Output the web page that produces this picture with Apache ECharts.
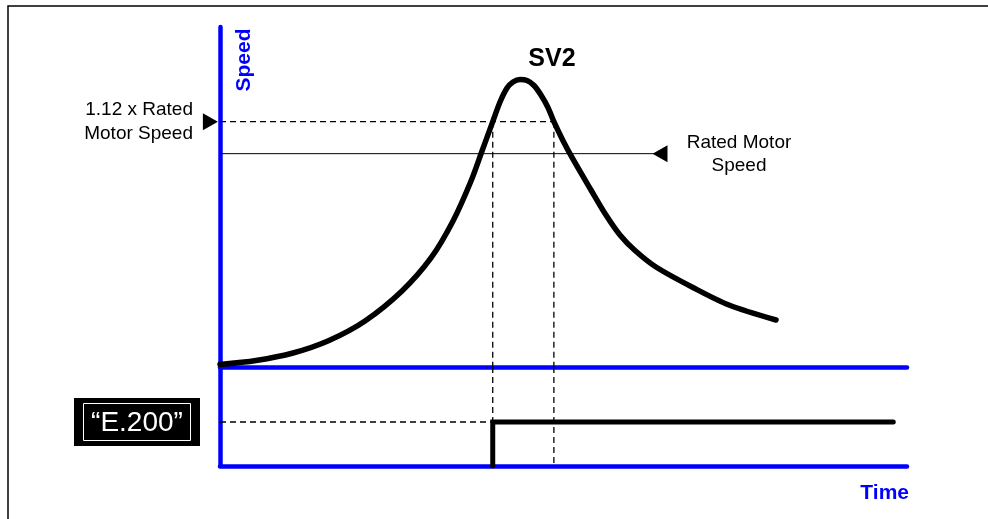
<!DOCTYPE html>
<html>
<head>
<meta charset="utf-8">
<style>
  html, body { margin: 0; padding: 0; background: #ffffff; }
  #chart { width: 988px; height: 519px; }
</style>
<script src="https://cdn.jsdelivr.net/npm/echarts@6/dist/echarts.min.js"></script>
</head>
<body>
<div id="chart"></div>
<script>
// Motor speed over time (rated speed = 100 %)
const timeVals  = [0, 5.24, 10.63, 15.87, 21.11, 26.49, 30.71, 33.92, 36.54, 38.14, 39.7, 40.76, 41.78, 42.65, 43.67,
                   44.69, 45.71, 46.72, 47.74, 48.6, 49.93, 51.38, 54.0, 56.04, 58.22, 60.41, 63.46, 68.85, 74.09, 80.93];
const speedVals = [20.94, 22.44, 25.25, 29.94, 37.25, 48.5, 60.88, 74.75, 89.75, 101, 112, 119.38, 124.63, 126.88, 127.81,
                   127.44, 125.56, 122, 117.31, 112, 104.88, 97.94, 86.38, 77.56, 69.5, 63.69, 57.5, 49.81, 43.25, 37.63];

// Reference levels
const ratedSpeed = 100;
const overSpeed = 112;          // 1.12 x rated
const ratedArrowTime = 64.05;   // where the "Rated Motor Speed" pointer sits
const overArrowTime = -1.4;     // pointer just left of the speed axis

// Times where the speed crosses the over-speed level
const crossUp = 39.7;
const crossDown = 48.6;

// Fault signal "E.200": off, then latched on at crossUp
const faultOnTime = crossUp;
const faultEndTime = 98;
const faultLevel = 1;

const FONT = '"Liberation Sans", Arial, sans-serif';
const BLUE = '#0000ff';

const chart = echarts.init(document.getElementById('chart'), null, { renderer: 'canvas' });

const speedData = timeVals.map((t, i) => [t, speedVals[i]]);

const blueAxisLine = { show: true, lineStyle: { color: BLUE, width: 4.5, cap: 'round' } };
const dashed = { color: '#000', width: 1.3, type: [6, 4] };

const option = {
  animation: false,
  backgroundColor: '#ffffff',
  grid: [
    { left: 220, top: 27, width: 687, height: 340 },
    { left: 220, top: 367, width: 687, height: 99 }
  ],
  xAxis: [
    { type: 'value', gridIndex: 0, min: 0, max: 100, axisLine: Object.assign({ onZero: false }, blueAxisLine),
      axisTick: { show: false }, axisLabel: { show: false }, splitLine: { show: false } },
    { type: 'value', gridIndex: 1, min: 0, max: 100, axisLine: Object.assign({ onZero: false }, blueAxisLine),
      axisTick: { show: false }, axisLabel: { show: false }, splitLine: { show: false } }
  ],
  yAxis: [
    { type: 'value', gridIndex: 0, min: 20, max: 147.5, axisLine: Object.assign({ onZero: false }, blueAxisLine),
      axisTick: { show: false }, axisLabel: { show: false }, splitLine: { show: false } },
    { type: 'value', gridIndex: 1, min: 0, max: 2.25, axisLine: Object.assign({ onZero: false }, blueAxisLine),
      axisTick: { show: false }, axisLabel: { show: false }, splitLine: { show: false } }
  ],
  series: [
    // over-speed level (dashed) with pointer
    { type: 'line', xAxisIndex: 0, yAxisIndex: 0, silent: true, symbol: 'none', z: 3,
      data: [[0, overSpeed], [crossDown, overSpeed]], lineStyle: dashed },
    { type: 'scatter', xAxisIndex: 0, yAxisIndex: 0, silent: true, clip: false, z: 5,
      symbol: 'triangle', symbolRotate: -90, symbolSize: [17, 15],
      itemStyle: { color: '#000', opacity: 1 },
      data: [[overArrowTime, overSpeed]] },
    // rated speed level with pointer
    { type: 'line', xAxisIndex: 0, yAxisIndex: 0, silent: true, z: 3,
      data: [
        { value: [0, ratedSpeed], symbol: 'none' },
        { value: [ratedArrowTime, ratedSpeed], symbol: 'triangle', symbolRotate: 90, symbolSize: [17, 15] }
      ],
      showSymbol: true, showAllSymbol: true,
      itemStyle: { color: '#000', opacity: 1 },
      lineStyle: { color: '#000', width: 1 } },
    // crossing markers in the speed panel
    { type: 'line', xAxisIndex: 0, yAxisIndex: 0, silent: true, symbol: 'none', z: 3,
      data: [[crossUp, overSpeed], [crossUp, 20]], lineStyle: dashed },
    { type: 'line', xAxisIndex: 0, yAxisIndex: 0, silent: true, symbol: 'none', z: 3,
      data: [[crossDown, overSpeed], [crossDown, 20]], lineStyle: dashed },
    // crossing markers in the fault panel
    { type: 'line', xAxisIndex: 1, yAxisIndex: 1, silent: true, symbol: 'none', z: 3,
      data: [[crossUp, 2.25], [crossUp, 0]], lineStyle: dashed },
    { type: 'line', xAxisIndex: 1, yAxisIndex: 1, silent: true, symbol: 'none', z: 3,
      data: [[crossDown, 2.25], [crossDown, 0]], lineStyle: dashed },
    { type: 'line', xAxisIndex: 1, yAxisIndex: 1, silent: true, symbol: 'none', z: 3,
      data: [[0, faultLevel], [faultOnTime, faultLevel]], lineStyle: dashed },
    // speed curve SV2
    { type: 'line', name: 'SV2', xAxisIndex: 0, yAxisIndex: 0, silent: true, symbol: 'none', z: 4,
      smooth: 0.3, data: speedData,
      lineStyle: { color: '#000', width: 5.5, cap: 'round', join: 'round' } },
    // fault signal step
    { type: 'line', name: 'E.200', xAxisIndex: 1, yAxisIndex: 1, silent: true, symbol: 'none', z: 4,
      data: [[faultOnTime, 0], [faultOnTime, faultLevel], [faultEndTime, faultLevel]],
      lineStyle: { color: '#000', width: 5, cap: 'round', join: 'miter' } }
  ],
  graphic: [
    // outer frame
    { type: 'polyline', silent: true, z: 10,
      shape: { points: [[8, 519], [8, 6], [988, 6]] },
      style: { stroke: '#000', lineWidth: 1.5, fill: null } },
    // axis titles
    { type: 'text', silent: true, z: 10, x: 244, y: 60, rotation: Math.PI / 2,
      style: { text: 'Speed', fill: BLUE, font: 'bold 21px ' + FONT, align: 'center', verticalAlign: 'middle' } },
    { type: 'text', silent: true, z: 10, x: 909, y: 493,
      style: { text: 'Time', fill: BLUE, font: 'bold 21px ' + FONT, align: 'right', verticalAlign: 'middle' } },
    // curve title
    { type: 'text', silent: true, z: 10, x: 552, y: 59,
      style: { text: 'SV2', fill: '#000', font: 'bold 25px ' + FONT, align: 'center', verticalAlign: 'middle' } },
    // level annotations
    { type: 'text', silent: true, z: 10, x: 193, y: 122,
      style: { text: '1.12 x Rated\nMotor Speed', fill: '#000', font: '19px ' + FONT, lineHeight: 24,
               align: 'right', verticalAlign: 'middle' } },
    { type: 'text', silent: true, z: 10, x: 739, y: 154,
      style: { text: 'Rated Motor\nSpeed', fill: '#000', font: '19px ' + FONT, lineHeight: 23,
               align: 'center', verticalAlign: 'middle' } },
    // fault display badge
    { type: 'rect', silent: true, z: 10,
      shape: { x: 74, y: 398, width: 126, height: 48 },
      style: { fill: '#000' } },
    { type: 'rect', silent: true, z: 11,
      shape: { x: 83.5, y: 403.5, width: 107, height: 37 },
      style: { fill: null, stroke: '#ffffff', lineWidth: 1 } },
    { type: 'text', silent: true, z: 12, x: 137, y: 423,
      style: { text: '\u201CE.200\u201D', fill: '#ffffff', font: '28px ' + FONT, align: 'center', verticalAlign: 'middle' } }
  ]
};

chart.setOption(option);
</script>
</body>
</html>
